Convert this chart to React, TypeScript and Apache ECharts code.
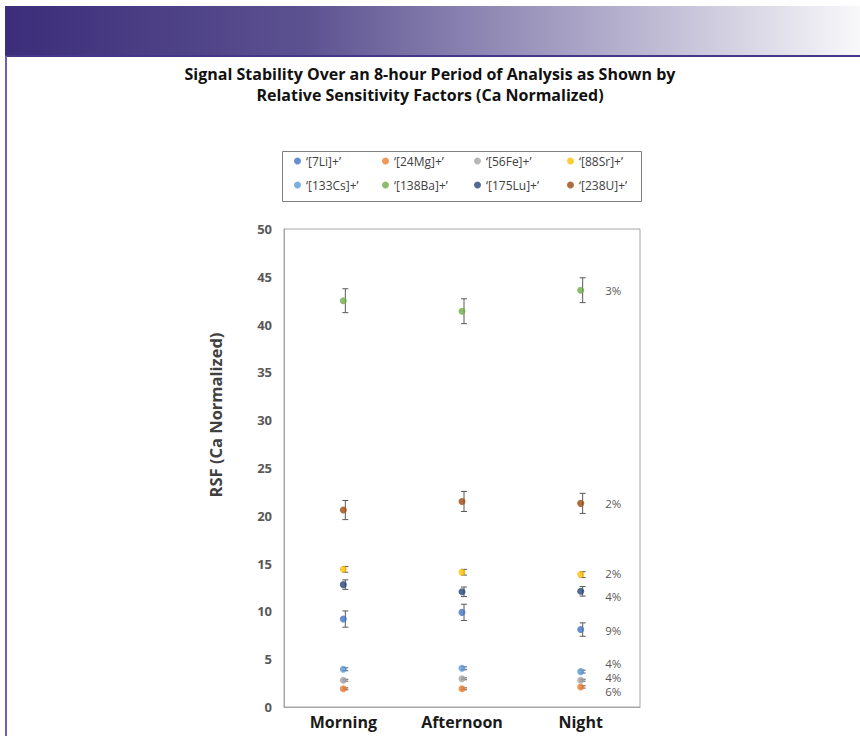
import React, { useEffect, useRef } from "react";
import * as echarts from "echarts";

const categories = ["Morning", "Afternoon", "Night"];
const names = ["‘[7Li]+’", "‘[24Mg]+’", "‘[56Fe]+’", "‘[88Sr]+’", "‘[133Cs]+’", "‘[138Ba]+’", "‘[175Lu]+’", "‘[238U]+’"];
const colors = ["#4472c4", "#ed7d31", "#a5a5a5", "#ffc000", "#5b9bd5", "#70ad47", "#264478", "#9e480e"];

const li = [9.2, 9.9, 8.1];
const mg = [1.9, 1.9, 2.1];
const fe = [2.8, 2.95, 2.8];
const sr = [14.4, 14.1, 13.85];
const cs = [3.95, 4.05, 3.7];
const ba = [42.5, 41.4, 43.6];
const lu = [12.8, 12.05, 12.1];
const u = [20.6, 21.5, 21.3];

const liErr = [0.85, 0.85, 0.7];
const mgErr = [0.1, 0.1, 0.12];
const feErr = [0.1, 0.1, 0.1];
const srErr = [0.3, 0.3, 0.3];
const csErr = [0.15, 0.15, 0.15];
const baErr = [1.25, 1.3, 1.3];
const luErr = [0.5, 0.5, 0.5];
const uErr = [1.0, 1.05, 1.05];

const cvLabels = ["9%", "6%", "4%", "2%", "4%", "3%", "4%", "2%"];
const labelShift = [1, 4.5, -3, -1, -8.5, 0, 5, 0];

const values = [li, mg, fe, sr, cs, ba, lu, u];
const errors = [liErr, mgErr, feErr, srErr, csErr, baErr, luErr, uErr];

// legend grid: 4 columns x 2 rows
const legendCols = [294, 382, 474, 567];
const legendRows = [155, 179];

const OPEN = "'Open Sans', Lato, sans-serif";

export default function App() {
  const ref = useRef<HTMLDivElement>(null);
  useEffect(() => {
    document.body.style.margin = "0";
    const chart = echarts.init(ref.current!, null, { renderer: "svg" });
    const series: any[] = [];
    values.forEach((vals, i) => {
      series.push({
        type: "custom",
        name: names[i] + " err",
        z: 1,
        silent: true,
        data: vals.map((v, k) => [k, v - errors[i][k], v + errors[i][k]]),
        encode: { x: 0, y: [1, 2] },
        renderItem: (params: any, api: any) => {
          const lo = api.coord([api.value(0), api.value(1)]);
          const hi = api.coord([api.value(0), api.value(2)]);
          const x = lo[0] + 2;
          const st = { stroke: "#595959", lineWidth: 1 };
          return {
            type: "group",
            children: [
              { type: "line", shape: { x1: x, y1: lo[1], x2: x, y2: hi[1] }, style: st },
              { type: "line", shape: { x1: x - 3, y1: lo[1], x2: x + 3, y2: lo[1] }, style: st },
              { type: "line", shape: { x1: x - 3, y1: hi[1], x2: x + 3, y2: hi[1] }, style: st },
            ],
          };
        },
      });
    });
    values.forEach((vals, i) => {
      series.push({
        type: "scatter",
        name: names[i],
        z: 3,
        symbol: "circle",
        symbolSize: 7,
        itemStyle: { color: colors[i] },
        data: vals.map((v, k) =>
          k === vals.length - 1
            ? {
                value: v,
                label: {
                  show: true,
                  position: "right",
                  distance: 21,
                  offset: [0, labelShift[i]],
                  formatter: cvLabels[i],
                  color: "#262626",
                  fontSize: 11.5,
                  lineHeight: 12,
                  fontFamily: OPEN,
                },
              }
            : v
        ),
      });
    });

    const legends = names.map((n, i) => ({
      data: [n],
      left: legendCols[i % 4],
      top: legendRows[Math.floor(i / 4)],
      icon: "circle",
      itemWidth: 7,
      itemHeight: 7,
      padding: 0,
      textStyle: { fontFamily: OPEN, fontSize: 12, color: "#404040" },
    }));

    chart.setOption({
      animation: false,
      color: colors,
      title: {
        text: "Signal Stability Over an 8-hour Period of Analysis as Shown by\nRelative Sensitivity Factors (Ca Normalized)",
        left: "center",
        top: 58,
        textStyle: { fontFamily: OPEN, fontWeight: "bold", fontSize: 16, color: "#111", lineHeight: 21 },
      },
      legend: legends,
      grid: { left: 284, right: 220, top: 229, bottom: 29, show: true, borderColor: "#a6a6a6", borderWidth: 1 },
      xAxis: {
        type: "category",
        data: categories,
        boundaryGap: true,
        axisLine: { lineStyle: { color: "#a6a6a6" } },
        axisTick: { show: false },
        axisLabel: { fontFamily: OPEN, fontWeight: "bold", fontSize: 16, color: "#1a1a1a", margin: 7 },
        splitLine: { show: false },
      },
      yAxis: {
        type: "value",
        min: 0,
        max: 50,
        interval: 5,
        axisLine: { show: true, lineStyle: { color: "#a6a6a6" } },
        axisTick: { show: false },
        axisLabel: { fontFamily: OPEN, fontWeight: "bold", fontSize: 13, color: "#595959", margin: 12 },
        splitLine: { show: false },
      },
      graphic: [
        {
          type: "rect",
          shape: { x: 5, y: 6, width: 855, height: 49 },
          style: {
            fill: new echarts.graphic.LinearGradient(0, 0, 1, 0, [
              { offset: 0, color: "#3b2d7a" },
              { offset: 0.35, color: "#5c5190" },
              { offset: 0.65, color: "#a49ec2" },
              { offset: 1, color: "#f8f8fa" },
            ]),
          },
          silent: true,
        },
        { type: "rect", shape: { x: 5, y: 55, width: 855, height: 2 }, style: { fill: "#44388a" }, silent: true },
        { type: "rect", shape: { x: 5, y: 56, width: 2, height: 680 }, style: { fill: "#6b62b5" }, silent: true },
        {
          type: "rect",
          shape: { x: 282.5, y: 151.5, width: 359, height: 50 },
          style: { fill: "none", stroke: "#7f7f7f", lineWidth: 1 },
          silent: true,
        },
        {
          type: "text",
          x: 215,
          y: 415,
          rotation: Math.PI / 2,
          style: {
            text: "RSF (Ca Normalized)",
            fontFamily: OPEN,
            fontWeight: "bold",
            fontSize: 16.5,
            fill: "#404040",
            align: "center",
            verticalAlign: "middle",
          },
          silent: true,
        },
      ],
      series,
    });
    return () => chart.dispose();
  }, []);
  return <div ref={ref} style={{ width: 860, height: 736 }} />;
}
